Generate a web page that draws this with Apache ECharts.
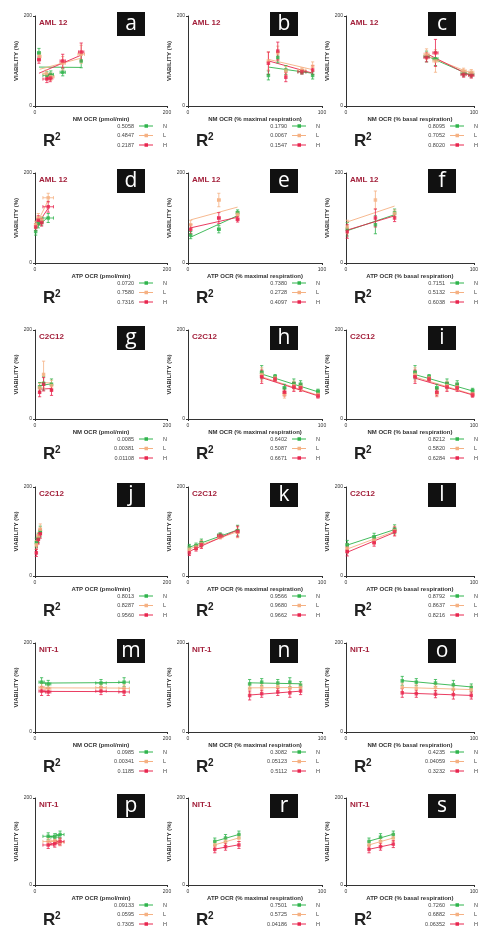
<!DOCTYPE html>
<html>
<head>
<meta charset="utf-8">
<script src="https://cdn.jsdelivr.net/npm/echarts@6/dist/echarts.min.js"></script>
<style>
html,body{margin:0;padding:0;background:#fff;}
#chart{width:481px;height:932px;}
</style>
</head>
<body>
<div id="chart"></div>
<script>
// Viability vs. OCR panels. Each point: [x, viability %, x error, viability error]
const groups = ['N', 'L', 'H'];
const groupColors = ['#2fb44c', '#f5b183', '#e8264f'];
const cellLines = ['AML 12', 'AML 12', 'C2C12', 'C2C12', 'NIT-1', 'NIT-1'];
const measures = ['NM OCR', 'ATP OCR', 'NM OCR', 'ATP OCR', 'NM OCR', 'ATP OCR'];
const units = ['(pmol/min)', '(% maximal respiration)', '(% basal respiration)'];
const xMaxByColumn = [200, 100, 100];
const panelLetters = ['a', 'b', 'c', 'd', 'e', 'f', 'g', 'h', 'i', 'j', 'k', 'l', 'm', 'n', 'o', 'p', 'r', 's'];

// AML 12 — non-mitochondrial OCR
const aN = [[6, 118, 2, 10], [18, 68, 6, 8], [24, 70, 4, 8], [42, 75, 4, 8], [70, 100, 0, 15]];
const aL = [[7, 110, 2, 8], [17, 72, 5, 8], [24, 65, 5, 8], [42, 95, 4, 15], [70, 115, 5, 20]];
const aH = [[6, 103, 2, 8], [18, 60, 6, 8], [23, 62, 4, 8], [42, 100, 4, 15], [70, 120, 4, 20]];
const bN = [[60, 68, 0, 10], [67, 108, 0, 12], [73, 80, 0, 10], [85, 76, 3, 5], [93, 68, 0, 8]];
const bL = [[60, 100, 0, 20], [67, 118, 0, 15], [73, 78, 0, 10], [85, 80, 3, 5], [93, 88, 0, 10]];
const bH = [[60, 95, 0, 25], [67, 122, 0, 20], [73, 64, 0, 10], [85, 76, 3, 5], [93, 80, 0, 10]];
const cN = [[63, 110, 2, 12], [70, 105, 2, 15], [92, 72, 2, 6], [98, 70, 2, 6]];
const cL = [[63, 115, 2, 12], [70, 100, 2, 25], [92, 78, 2, 6], [98, 75, 2, 6]];
const cH = [[63, 108, 2, 10], [70, 118, 2, 30], [92, 70, 2, 6], [98, 68, 2, 6]];
// AML 12 — ATP-linked OCR
const dN = [[1, 70, 0, 8], [5, 88, 2, 10], [10, 92, 2, 8], [20, 100, 8, 10]];
const dL = [[1, 85, 0, 8], [5, 100, 2, 10], [10, 95, 2, 8], [20, 145, 8, 10]];
const dH = [[1, 80, 0, 8], [5, 95, 2, 10], [10, 90, 2, 8], [20, 125, 8, 12]];
const eN = [[2, 62, 0, 8], [23, 75, 1, 8], [37, 112, 1, 6]];
const eL = [[2, 85, 0, 10], [23, 140, 1, 15], [37, 108, 1, 6]];
const eH = [[2, 75, 0, 10], [23, 100, 1, 12], [37, 97, 1, 6]];
const fN = [[1, 75, 0, 15], [23, 85, 0, 20], [38, 112, 0, 8]];
const fL = [[1, 80, 0, 15], [23, 140, 0, 20], [38, 110, 0, 8]];
const fH = [[1, 70, 0, 15], [23, 100, 0, 20], [38, 100, 0, 8]];
// C2C12 — non-mitochondrial OCR
const gN = [[7, 72, 1, 10], [13, 80, 1, 15], [25, 78, 1, 12]];
const gL = [[7, 70, 1, 10], [13, 100, 1, 30], [25, 75, 1, 12]];
const gH = [[7, 60, 1, 10], [13, 78, 1, 15], [25, 65, 1, 12]];
const hN = [[55, 105, 1, 15], [65, 95, 1, 5], [72, 70, 1, 8], [79, 80, 1, 10], [84, 78, 1, 8], [97, 62, 1, 5]];
const hL = [[55, 100, 1, 15], [65, 92, 1, 5], [72, 55, 1, 8], [79, 75, 1, 10], [84, 72, 1, 8], [97, 55, 1, 5]];
const hH = [[55, 95, 1, 15], [65, 90, 1, 5], [72, 60, 1, 8], [79, 72, 1, 10], [84, 70, 1, 8], [97, 52, 1, 5]];
const iN = [[54, 105, 1, 15], [65, 95, 1, 5], [71, 70, 1, 8], [79, 80, 1, 10], [87, 78, 1, 8], [99, 64, 1, 5]];
const iL = [[54, 100, 1, 15], [65, 92, 1, 5], [71, 58, 1, 8], [79, 75, 1, 10], [87, 72, 1, 8], [99, 56, 1, 5]];
const iH = [[54, 95, 1, 15], [65, 90, 1, 5], [71, 60, 1, 8], [79, 72, 1, 10], [87, 70, 1, 8], [99, 54, 1, 5]];
// C2C12 — ATP-linked OCR
const jN = [[2, 75, 1, 10], [5, 85, 2, 10], [8, 100, 2, 12]];
const jL = [[2, 70, 1, 10], [5, 90, 2, 8], [8, 105, 2, 12]];
const jH = [[2, 52, 1, 8], [5, 82, 2, 10], [8, 95, 2, 10]];
const kN = [[1, 65, 0, 6], [6, 68, 1, 6], [10, 75, 1, 8], [24, 92, 2, 5], [37, 102, 1, 12]];
const kL = [[1, 60, 0, 6], [6, 65, 1, 6], [10, 72, 1, 8], [24, 88, 2, 5], [37, 98, 1, 12]];
const kH = [[1, 52, 0, 6], [6, 62, 1, 6], [10, 70, 1, 8], [24, 90, 2, 5], [37, 100, 1, 12]];
const lN = [[1, 70, 1, 10], [22, 88, 1, 8], [38, 105, 1, 10]];
const lL = [[1, 62, 1, 10], [22, 80, 1, 8], [38, 102, 1, 10]];
const lH = [[1, 55, 1, 10], [22, 75, 1, 8], [38, 100, 1, 10]];
// NIT-1 — non-mitochondrial OCR
const mN = [[10, 112, 4, 10], [20, 108, 4, 8], [100, 110, 8, 8], [135, 112, 8, 10]];
const mL = [[10, 100, 4, 10], [20, 98, 4, 8], [100, 100, 8, 8], [135, 98, 8, 8]];
const mH = [[10, 92, 4, 10], [20, 90, 4, 8], [100, 92, 8, 8], [135, 90, 8, 8]];
const nN = [[46, 108, 0, 10], [55, 112, 0, 8], [67, 110, 0, 8], [76, 112, 0, 10], [84, 105, 0, 8]];
const nL = [[46, 98, 0, 10], [55, 100, 0, 8], [67, 102, 0, 8], [76, 98, 0, 10], [84, 100, 0, 8]];
const nH = [[46, 82, 0, 10], [55, 86, 0, 8], [67, 90, 0, 8], [76, 88, 0, 10], [84, 92, 0, 8]];
const oN = [[44, 115, 0, 10], [55, 112, 0, 8], [70, 110, 0, 8], [84, 106, 0, 10], [98, 100, 0, 8]];
const oL = [[44, 100, 0, 10], [55, 98, 0, 8], [70, 100, 0, 8], [84, 96, 0, 10], [98, 95, 0, 8]];
const oH = [[44, 88, 0, 10], [55, 86, 0, 8], [70, 85, 0, 8], [84, 84, 0, 10], [98, 82, 0, 8]];
// NIT-1 — ATP-linked OCR
const pN = [[20, 112, 8, 8], [30, 110, 6, 8], [38, 116, 6, 8]];
const pL = [[20, 100, 8, 8], [30, 102, 6, 8], [38, 98, 6, 8]];
const pH = [[20, 92, 8, 8], [30, 95, 6, 8], [38, 100, 6, 8]];
const rN = [[20, 100, 0, 8], [28, 108, 0, 8], [38, 116, 0, 8]];
const rL = [[20, 92, 0, 8], [28, 100, 0, 8], [38, 108, 0, 8]];
const rH = [[20, 82, 0, 8], [28, 88, 0, 8], [38, 92, 0, 8]];
const sN = [[18, 100, 0, 8], [27, 110, 0, 8], [37, 116, 0, 8]];
const sL = [[18, 92, 0, 8], [27, 100, 0, 8], [37, 108, 0, 8]];
const sH = [[18, 82, 0, 8], [27, 88, 0, 8], [37, 94, 0, 8]];

// Goodness of fit (R²) per panel, in N / L / H order
const r2Row1 = [['0.5058', '0.4847', '0.2187'], ['0.1790', '0.0067', '0.1547'], ['0.8095', '0.7052', '0.8020']];
const r2Row2 = [['0.0720', '0.7580', '0.7316'], ['0.7380', '0.2728', '0.4097'], ['0.7151', '0.5132', '0.6038']];
const r2Row3 = [['0.0085', '0.00381', '0.01108'], ['0.6402', '0.5087', '0.6671'], ['0.8212', '0.5820', '0.6284']];
const r2Row4 = [['0.8013', '0.8287', '0.9560'], ['0.9566', '0.9680', '0.9662'], ['0.8792', '0.8637', '0.8216']];
const r2Row5 = [['0.0985', '0.00341', '0.1185'], ['0.3082', '0.05123', '0.5112'], ['0.4235', '0.04059', '0.3232']];
const r2Row6 = [['0.09133', '0.0595', '0.7305'], ['0.7501', '0.5725', '0.04186'], ['0.7260', '0.6882', '0.06352']];

const panelPoints = [
  [aN, aL, aH], [bN, bL, bH], [cN, cL, cH],
  [dN, dL, dH], [eN, eL, eH], [fN, fL, fH],
  [gN, gL, gH], [hN, hL, hH], [iN, iL, iH],
  [jN, jL, jH], [kN, kL, kH], [lN, lL, lH],
  [mN, mL, mH], [nN, nL, nH], [oN, oL, oH],
  [pN, pL, pH], [rN, rL, rH], [sN, sL, sH]
];
const r2Rows = [r2Row1, r2Row2, r2Row3, r2Row4, r2Row5, r2Row6];

// Panel layout (px)
const colLeft = [35, 188, 346];
const colWidth = [132, 134, 134];
const rowTop = [16, 173, 330, 487, 643, 798];
const rowHeight = [90, 90, 89, 89, 89, 87];

const FONT = 'Liberation Sans, Arial, sans-serif';
const AXIS_COLOR = '#333';

function linearFit(pts) {
  const n = pts.length;
  let sx = 0, sy = 0, sxx = 0, sxy = 0;
  pts.forEach(p => { sx += p[0]; sy += p[1]; sxx += p[0] * p[0]; sxy += p[0] * p[1]; });
  const slope = (n * sxy - sx * sy) / (n * sxx - sx * sx);
  const intercept = (sy - slope * sx) / n;
  const xs = pts.map(p => p[0]);
  const x0 = Math.min(...xs), x1 = Math.max(...xs);
  return [[x0, intercept + slope * x0], [x1, intercept + slope * x1]];
}

function errorBars(api, color) {
  const x = api.value(0), y = api.value(1), ex = api.value(2), ey = api.value(3);
  const children = [];
  const cap = 1.6;
  const st = { stroke: color, lineWidth: 0.8 };
  if (ey > 0) {
    const t = api.coord([x, y + ey]), b = api.coord([x, y - ey]);
    children.push({ type: 'line', shape: { x1: t[0], y1: t[1], x2: b[0], y2: b[1] }, style: st });
    children.push({ type: 'line', shape: { x1: t[0] - cap, y1: t[1], x2: t[0] + cap, y2: t[1] }, style: st });
    children.push({ type: 'line', shape: { x1: b[0] - cap, y1: b[1], x2: b[0] + cap, y2: b[1] }, style: st });
  }
  if (ex > 0) {
    const l = api.coord([x - ex, y]), r = api.coord([x + ex, y]);
    children.push({ type: 'line', shape: { x1: l[0], y1: l[1], x2: r[0], y2: r[1] }, style: st });
    children.push({ type: 'line', shape: { x1: l[0], y1: l[1] - cap, x2: l[0], y2: l[1] + cap }, style: st });
    children.push({ type: 'line', shape: { x1: r[0], y1: r[1] - cap, x2: r[0], y2: r[1] + cap }, style: st });
  }
  return { type: 'group', children };
}

const grid = [], xAxis = [], yAxis = [], series = [], graphic = [];

for (let r = 0; r < 6; r++) {
  for (let c = 0; c < 3; c++) {
    const idx = r * 3 + c;
    const left = colLeft[c], top = rowTop[r], w = colWidth[c], h = rowHeight[r];
    const zero = top + h;
    const xMax = xMaxByColumn[c];

    grid.push({ left: left, top: top, width: w, height: h });
    xAxis.push({
      gridIndex: idx, type: 'value', min: 0, max: xMax, interval: xMax,
      name: measures[r] + ' ' + units[c], nameLocation: 'middle', nameGap: 8,
      nameTextStyle: { fontSize: 6, fontWeight: 'bold', color: AXIS_COLOR, fontFamily: FONT },
      axisLine: { show: true, lineStyle: { color: AXIS_COLOR, width: 1 } },
      axisTick: { show: true, length: 2, lineStyle: { color: AXIS_COLOR } },
      axisLabel: { fontSize: 5, color: AXIS_COLOR, margin: 4, fontFamily: FONT },
      splitLine: { show: false }
    });
    yAxis.push({
      gridIndex: idx, type: 'value', min: 0, max: 200, interval: 200,
      name: 'VIABILITY (%)', nameLocation: 'middle', nameGap: 11, nameRotate: 90,
      nameTextStyle: { fontSize: 6, fontWeight: 'bold', color: AXIS_COLOR, fontFamily: FONT },
      axisLine: { show: true, lineStyle: { color: AXIS_COLOR, width: 1 } },
      axisTick: { show: true, length: 2, lineStyle: { color: AXIS_COLOR } },
      axisLabel: { fontSize: 5, color: AXIS_COLOR, margin: 3, fontFamily: FONT },
      splitLine: { show: false }
    });

    panelPoints[idx].forEach((pts, gi) => {
      const color = groupColors[gi];
      series.push({
        type: 'line', xAxisIndex: idx, yAxisIndex: idx, data: linearFit(pts),
        symbol: 'none', silent: true, z: 1,
        lineStyle: { color: color, width: 0.9 }
      });
      series.push({
        type: 'custom', xAxisIndex: idx, yAxisIndex: idx, data: pts,
        encode: { x: 0, y: 1 }, silent: true, z: 2,
        renderItem: (params, api) => errorBars(api, color)
      });
      series.push({
        type: 'scatter', xAxisIndex: idx, yAxisIndex: idx, data: pts,
        encode: { x: 0, y: 1 }, symbol: 'rect', symbolSize: 3.5, z: 3,
        itemStyle: { color: color }
      });
    });

    // Cell-line title
    graphic.push({
      type: 'text', left: left + 4, top: top + 3,
      style: { text: cellLines[r], fontSize: 8, fontWeight: 'bold', fill: '#a3203b', fontFamily: FONT }
    });
    // Panel letter badge
    graphic.push({
      type: 'rect', left: left + 82, top: top - 4,
      shape: { width: 28, height: 24 }, style: { fill: '#111' }
    });
    graphic.push({
      type: 'text', x: left + 96, y: top + 8,
      style: { text: panelLetters[idx], fontSize: 21, fill: '#fff', align: 'center', verticalAlign: 'middle', fontFamily: 'Open Sans, sans-serif' }
    });
    // R² key
    graphic.push({
      type: 'text', x: left + 8, y: zero + 44,
      style: { text: 'R', fontSize: 17, fontWeight: 'bold', fill: '#222', verticalAlign: 'bottom', fontFamily: FONT }
    });
    graphic.push({
      type: 'text', x: left + 20, y: zero + 36,
      style: { text: '2', fontSize: 10, fontWeight: 'bold', fill: '#222', verticalAlign: 'bottom', fontFamily: FONT }
    });
    const r2 = r2Rows[r][c];
    groups.forEach((g, gi) => {
      const yy = zero + 20 + gi * 9.5;
      const color = groupColors[gi];
      graphic.push({
        type: 'text', x: left + 99, y: yy,
        style: { text: r2[gi], fontSize: 5.5, fill: '#444', align: 'right', verticalAlign: 'middle', fontFamily: FONT }
      });
      graphic.push({
        type: 'line', shape: { x1: left + 104, y1: yy, x2: left + 118, y2: yy },
        style: { stroke: color, lineWidth: 1 }
      });
      graphic.push({
        type: 'rect', shape: { x: left + 109.5, y: yy - 1.75, width: 3.5, height: 3.5 },
        style: { fill: color }
      });
      graphic.push({
        type: 'text', x: left + 128, y: yy,
        style: { text: g, fontSize: 5.5, fill: '#444', verticalAlign: 'middle', fontFamily: FONT }
      });
    });
  }
}

const chart = echarts.init(document.getElementById('chart'), null, { renderer: 'canvas' });
chart.setOption({
  animation: false,
  backgroundColor: '#fff',
  grid, xAxis, yAxis, series, graphic
});
</script>
</body>
</html>
